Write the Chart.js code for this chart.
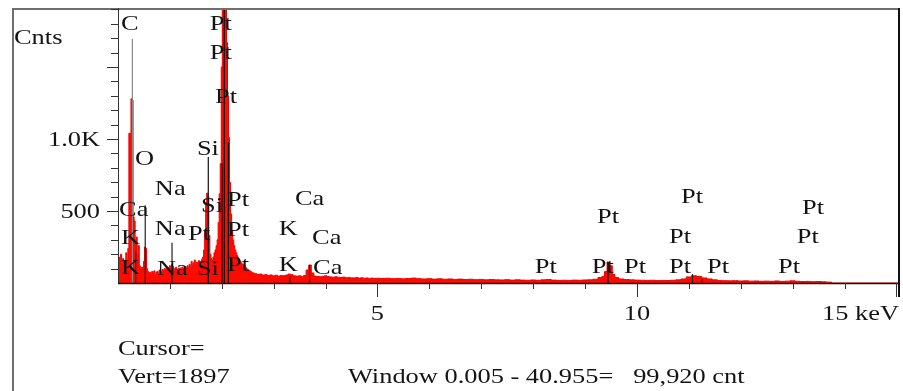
<!DOCTYPE html>
<html lang="en">
<head>
<meta charset="UTF-8" />
<title>EDS spectrum</title>
<script src="https://cdn.jsdelivr.net/npm/chart.js"></script>
<style>
  body { margin: 0; background: #fff; }
  canvas { display: block; }
</style>
</head>
<body>
<canvas id="espectro" width="903" height="391"></canvas>
<script>
  // spectrum, low energy part (0 - 2.6 keV)
  const energiaBaixa = [
    0.00, 0.02, 0.04, 0.06, 0.08, 0.10, 0.12, 0.14, 0.16, 0.18,
    0.20, 0.22, 0.24, 0.26, 0.28, 0.30, 0.32, 0.34, 0.36, 0.38,
    0.40, 0.42, 0.44, 0.46, 0.48, 0.50, 0.52, 0.54, 0.56, 0.58,
    0.60, 0.62, 0.64, 0.66, 0.68, 0.70, 0.72, 0.74, 0.76, 0.78,
    0.80, 0.82, 0.84, 0.86, 0.88, 0.90, 0.92, 0.94, 0.96, 0.98,
    1.00, 1.02, 1.04, 1.06, 1.08, 1.10, 1.12, 1.14, 1.16, 1.18,
    1.20, 1.22, 1.24, 1.26, 1.28, 1.30, 1.32, 1.34, 1.36, 1.38,
    1.40, 1.42, 1.44, 1.46, 1.48, 1.50, 1.52, 1.54, 1.56, 1.58,
    1.60, 1.62, 1.64, 1.66, 1.68, 1.70, 1.72, 1.74, 1.76, 1.78,
    1.80, 1.82, 1.84, 1.86, 1.88, 1.90, 1.92, 1.94, 1.96, 1.98,
    2.00, 2.02, 2.04, 2.06, 2.08, 2.10, 2.12, 2.14, 2.16, 2.18,
    2.20, 2.22, 2.24, 2.26, 2.28, 2.30, 2.32, 2.34, 2.36, 2.38,
    2.40, 2.42, 2.44, 2.46, 2.48, 2.50, 2.52, 2.54, 2.56, 2.58,
    2.60
  ];
  const contagensBaixa = [
    150, 180, 160, 200, 140, 170, 130, 150, 210, 160,
    240, 1040, 1040, 1280, 1270, 460, 430, 300, 320, 200,
    260, 120, 100, 110, 90, 150, 250, 240, 100, 80,
    70, 75, 60, 80, 70, 85, 65, 75, 80, 70,
    90, 75, 80, 95, 85, 100, 90, 110, 95, 105,
    120, 110, 130, 115, 100, 95, 110, 90, 100, 95,
    105, 90, 110, 100, 95, 115, 105, 120, 110, 130,
    115, 150, 125, 140, 160, 135, 145, 130, 155, 140,
    150, 165, 180, 230, 370, 560, 625, 600, 330, 200,
    170, 160, 180, 210, 230, 260, 300, 420, 620, 830,
    1500, 2100, 2300, 2200, 1900, 1670, 1300, 1010, 700, 480,
    360, 300, 260, 230, 210, 190, 175, 160, 150, 140,
    130, 125, 120, 110, 100, 95, 90, 85, 80, 75,
    70
  ];

  // spectrum, middle part (2.65 - 5 keV)
  const energiaMedia = [
    2.65, 2.70, 2.75, 2.80, 2.85, 2.90, 2.95, 3.00, 3.05, 3.10,
    3.15, 3.20, 3.25, 3.30, 3.35, 3.40, 3.45, 3.50, 3.55, 3.60,
    3.65, 3.70, 3.75, 3.80, 3.85, 3.90, 3.95, 4.00, 4.05, 4.10,
    4.15, 4.20, 4.25, 4.30, 4.35, 4.40, 4.45, 4.50, 4.55, 4.60,
    4.65, 4.70, 4.75, 4.80, 4.85, 4.90, 4.95, 5.00
  ];
  const contagensMedia = [
    65, 60, 62, 55, 58, 52, 56, 50, 54, 48,
    52, 50, 55, 62, 58, 50, 47, 50, 46, 52,
    90, 125, 70, 48, 45, 44, 46, 50, 45, 42,
    40, 43, 40, 38, 41, 37, 39, 36, 35, 38,
    34, 36, 33, 35, 32, 34, 31, 33
  ];

  // spectrum, high energy part (5.1 - 15 keV)
  const energiaAlta = [
    5.1, 5.2, 5.3, 5.4, 5.5, 5.6, 5.7, 5.8, 5.9, 6.0,
    6.1, 6.2, 6.3, 6.4, 6.5, 6.6, 6.7, 6.8, 6.9, 7.0,
    7.1, 7.2, 7.3, 7.4, 7.5, 7.6, 7.7, 7.8, 7.9, 8.0,
    8.1, 8.2, 8.3, 8.4, 8.5, 8.6, 8.7, 8.8, 8.9, 9.0,
    9.1, 9.2, 9.3, 9.35, 9.4, 9.45, 9.5, 9.55, 9.6, 9.7,
    9.8, 9.9, 10.0, 10.1, 10.2, 10.3, 10.4, 10.5, 10.6, 10.7,
    10.8, 10.9, 11.0, 11.1, 11.2, 11.3, 11.4, 11.5, 11.6, 11.7,
    11.8, 11.9, 12.0, 12.1, 12.2, 12.3, 12.4, 12.5, 12.6, 12.7,
    12.8, 12.9, 13.0, 13.1, 13.2, 13.3, 13.4, 13.5, 13.6, 13.7,
    13.8, 15.05
  ];
  const contagensAlta = [
    31, 33, 30, 32, 29, 31, 34, 30, 28, 30,
    27, 29, 26, 28, 25, 27, 24, 26, 23, 25,
    22, 24, 22, 21, 23, 20, 22, 20, 19, 21,
    19, 22, 24, 20, 18, 19, 18, 20, 19, 21,
    22, 26, 38, 45, 80, 146, 120, 60, 38, 28,
    24, 22, 20, 19, 18, 19, 17, 18, 17, 19,
    22, 28, 42, 50, 45, 35, 28, 22, 18, 16,
    15, 16, 14, 15, 13, 14, 12, 13, 12, 14,
    11, 13, 15, 12, 10, 11, 9, 10, 8, 6,
    0, 0
  ];

  // KLM marker lines (keV, height in counts)
  const marcaKeV = [0.277, 0.341, 0.525, 1.041, 1.740, 2.005, 2.048, 2.127, 3.313, 3.691, 9.442, 11.07, 11.25];
  const marcaTopo = [1694, 220, 540, 280, 875, 830, 1910, 980, 45, 125, 146, 62, 30];
  const marcaCor = ["#8a8a8a", "#222", "#222", "#222", "#111", "#111", "#111", "#111", "#222", "#222", "#111", "#222", "#222"];

  // element labels (left edge in keV, vertical centre in counts)
  const rotuloTexto = [
    "C", "Pt", "Pt", "Pt", "Si", "O", "Na", "Ca", "Si", "Pt", "Ca",
    "Na", "K", "Pt", "Pt", "K", "Ca",
    "K", "Na", "Si", "Pt", "K", "Ca",
    "Pt", "Pt", "Pt", "Pt", "Pt", "Pt", "Pt", "Pt", "Pt", "Pt", "Pt"
  ];
  const rotuloKeV = [
    0.06, 1.77, 1.77, 1.87, 1.52, 0.33, 0.71, 0.02, 1.60, 2.10, 3.41,
    0.71, 0.06, 1.35, 2.10, 3.10, 3.74,
    0.06, 0.75, 1.52, 2.10, 3.10, 3.76,
    8.03, 9.23, 9.13, 9.75, 10.85, 10.62, 10.62, 11.35, 13.18, 13.08, 12.72
  ];
  const rotuloContagens = [
    1806, 1806, 1604, 1299, 938, 868, 660, 514, 542, 583, 590,
    382, 320, 347, 375, 382, 320,
    111, 104, 104, 132, 132, 111,
    118, 465, 118, 118, 604, 326, 118, 118, 528, 326, 118
  ];

  // axis ticks
  const xTickValores = [5, 10, 15];
  const xTickTextos = ["5", "10", "15 keV"];
  const yTickValores = [500, 1000];
  const yTickTextos = ["500", "1.0K"];
  const xMax = 15.05;
  const yMax = 1910;

  const fonte = '22px "Liberation Serif", "Times New Roman", serif';
  const esticar = 1.2;
  const corTexto = "#141414";

  function texto(ctx, str, x, y, align) {
    ctx.save();
    ctx.translate(x, y);
    ctx.scale(esticar, 1);
    ctx.font = fonte;
    ctx.fillStyle = corTexto;
    ctx.textAlign = align || "left";
    ctx.textBaseline = "alphabetic";
    ctx.fillText(str, 0, 0);
    ctx.restore();
  }

  // build datasets
  const energia = energiaBaixa.concat(energiaMedia, energiaAlta);
  const contagens = contagensBaixa.concat(contagensMedia, contagensAlta);
  const pontosEspectro = energia.map((e, i) => ({ x: e, y: contagens[i] }));

  const pontosMarcas = [];
  marcaKeV.forEach((k, i) => {
    pontosMarcas.push({ x: k, y: 0 }, { x: k, y: marcaTopo[i] }, { x: k, y: null });
  });

  const eixos = {
    id: "eixos",
    afterDatasetsDraw(chart) {
      const ctx = chart.ctx;
      const a = chart.chartArea;
      const sx = chart.scales.x;
      const sy = chart.scales.y;
      ctx.save();

      // outer frame
      ctx.strokeStyle = "#6e6e6e";
      ctx.lineWidth = 2;
      ctx.beginPath();
      ctx.moveTo(13, 400);
      ctx.lineTo(13, 9);
      ctx.lineTo(a.right, 9);
      ctx.stroke();

      // right border
      ctx.strokeStyle = "#111";
      ctx.lineWidth = 2;
      ctx.beginPath();
      ctx.moveTo(a.right, 8);
      ctx.lineTo(a.right, a.bottom + 14);
      ctx.stroke();

      // axis lines
      ctx.lineWidth = 1;
      ctx.strokeStyle = "#333";
      ctx.beginPath();
      ctx.moveTo(a.left + 0.5, a.top);
      ctx.lineTo(a.left + 0.5, a.bottom);
      ctx.stroke();
      ctx.strokeStyle = "#111";
      ctx.lineWidth = 1.5;
      ctx.beginPath();
      ctx.moveTo(a.left, a.bottom + 0.5);
      ctx.lineTo(a.right, a.bottom + 0.5);
      ctx.stroke();

      // y ticks every 100 counts
      ctx.lineWidth = 1;
      ctx.strokeStyle = "#333";
      for (let v = 100; v < yMax; v += 100) {
        const y = Math.round(sy.getPixelForValue(v)) + 0.5;
        const len = v % 500 === 0 ? 11 : 7;
        ctx.beginPath();
        ctx.moveTo(a.left - len, y);
        ctx.lineTo(a.left, y);
        ctx.stroke();
      }
      // x ticks every keV
      for (let k = 1; k <= 15; k++) {
        const x = Math.round(sx.getPixelForValue(k)) + 0.5;
        const len = k % 5 === 0 ? 14 : 6;
        ctx.beginPath();
        ctx.moveTo(x, a.bottom);
        ctx.lineTo(x, a.bottom + len);
        ctx.stroke();
      }

      // tick labels
      yTickValores.forEach((v, i) => {
        texto(ctx, yTickTextos[i], 100, sy.getPixelForValue(v) + 7, "right");
      });
      xTickValores.forEach((k, i) => {
        if (i === xTickValores.length - 1) {
          texto(ctx, xTickTextos[i], a.right, a.bottom + 37, "right");
        } else {
          texto(ctx, xTickTextos[i], sx.getPixelForValue(k), a.bottom + 37, "center");
        }
      });
      texto(ctx, "Cnts", 14, 44, "left");

      // element labels
      rotuloTexto.forEach((t, i) => {
        texto(ctx, t, sx.getPixelForValue(rotuloKeV[i]), sy.getPixelForValue(rotuloContagens[i]) + 7, "left");
      });

      // status text under the plot
      texto(ctx, "Cursor=", 118, 355, "left");
      texto(ctx, "Vert=1897", 118, 383, "left");
      texto(ctx, "Window 0.005 - 40.955=   99,920 cnt", 348, 383, "left");

      ctx.restore();
    }
  };

  const grafico = new Chart(document.getElementById("espectro"), {
    type: "line",
    data: {
      datasets: [
        {
          label: "Marcas",
          data: pontosMarcas,
          borderWidth: 1.2,
          borderColor: "#111",
          segment: {
            borderColor: (c) => marcaCor[Math.floor(c.p0DataIndex / 3)],
          },
          pointRadius: 0,
          spanGaps: false,
          fill: false,
        },
        {
          label: "Espectro",
          data: pontosEspectro,
          stepped: "middle",
          borderColor: "#ee0000",
          backgroundColor: "#ff0a00",
          borderWidth: 1,
          pointRadius: 0,
          fill: "origin",
        },
      ],
    },
    options: {
      responsive: false,
      animation: false,
      layout: { padding: { left: 118, top: 8, right: 4, bottom: 108 } },
      plugins: {
        legend: { display: false },
        tooltip: { enabled: false },
      },
      scales: {
        x: { type: "linear", min: 0, max: xMax, display: false },
        y: { type: "linear", min: 0, max: yMax, display: false },
      },
    },
    plugins: [eixos],
  });
</script>
</body>
</html>
